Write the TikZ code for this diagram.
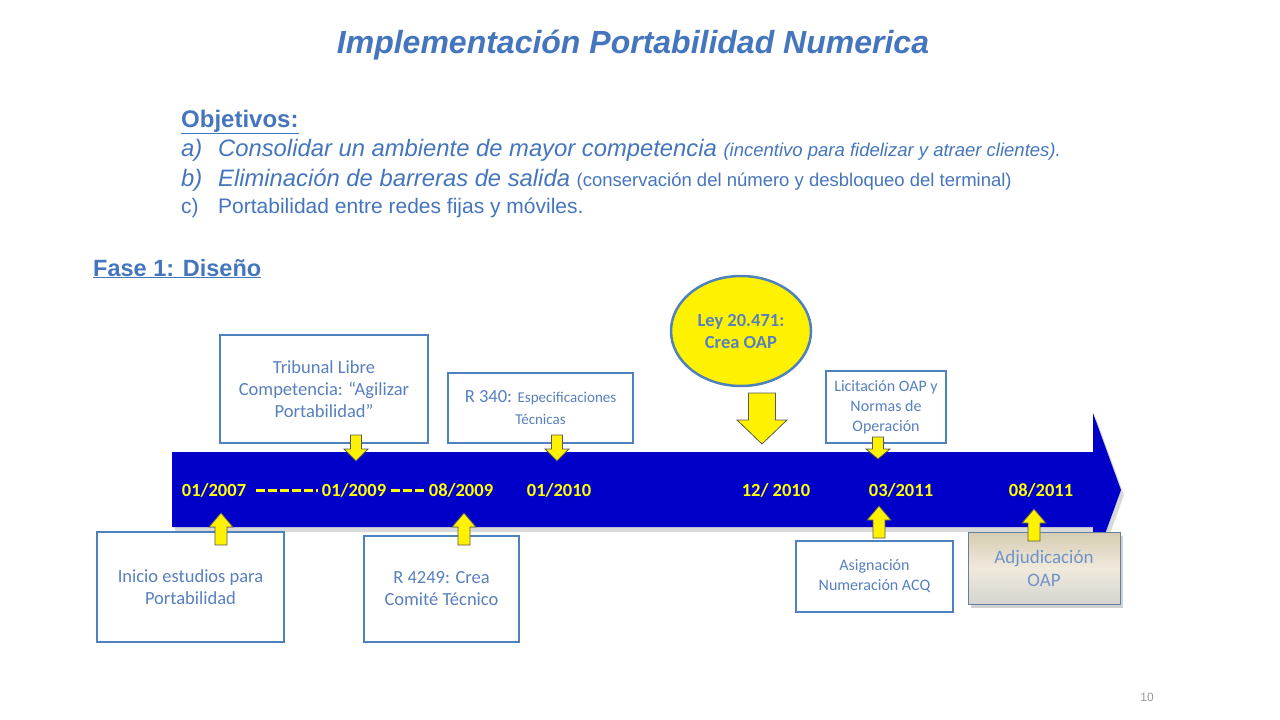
\documentclass[tikz,border=0pt]{standalone}
\usepackage{fontspec}
\setmainfont{Liberation Sans}
\newfontfamily\calibri{Carlito}
\usetikzlibrary{shapes.geometric, positioning}

\definecolor{titleblue}{RGB}{68,117,189}
\definecolor{boxline}{RGB}{79,129,189}
\definecolor{boxtext}{RGB}{88,128,190}
\definecolor{bandblue}{RGB}{0,0,200}
\definecolor{dateyellow}{RGB}{255,255,0}
\definecolor{adjtop}{RGB}{214,204,178}
\definecolor{adjmid}{RGB}{240,234,220}
\definecolor{adjbot}{RGB}{212,212,208}

\tikzset{
  slidetext/.style={anchor=base west, inner sep=0, text=titleblue},
  eventbox/.style={draw=boxline, line width=2.5, fill=white, align=center, inner sep=2,
    text=boxtext, font=\calibri\fontsize{18.5}{22}\selectfont},
  smallbox/.style={eventbox, font=\calibri\fontsize{16}{20}\selectfont},
  date/.style={text=dateyellow, inner sep=1, font=\calibri\bfseries\fontsize{18.5}{22}\selectfont},
  datedash/.style={dateyellow, line width=3, dash pattern=on 9 off 3},
  % block arrow pointing up: length, shaft half width, head half width, head length
  pics/blockarrow/.style n args={4}{code={
    \path[draw=black!65, fill=yellow, line width=0.8]
      (0,-#1/2) -- (#3,-#1/2+#4) -- (#2,-#1/2+#4) -- (#2,#1/2) -- (-#2,#1/2)
      -- (-#2,-#1/2+#4) -- (-#3,-#1/2+#4) -- cycle;
  }},
}

\begin{document}
\begin{tikzpicture}[x=1pt, y=-1pt]
  \useasboundingbox (0,0) rectangle (1280,720);

  % Title
  \node[text=titleblue, font=\bfseries\itshape\fontsize{32}{38}\selectfont] (title) at (633,45)
    {Implementación Portabilidad Numerica};

  % Objetivos
  \node[slidetext, font=\bfseries\fontsize{24}{28}\selectfont] (obj) at (181,127) {\underline{Objetivos:}};
  \node[slidetext, font=\itshape\fontsize{23.8}{28}\selectfont] (obja) at (181,156)
    {\makebox[37pt][l]{a)}Consolidar un ambiente de mayor competencia {\fontsize{18.5}{20}\selectfont (incentivo para fidelizar y atraer clientes).}};
  \node[slidetext, font=\fontsize{23.8}{28}\selectfont] (objb) at (181,186)
    {\makebox[37pt][l]{\itshape b)}\textit{Eliminación de barreras de salida} {\fontsize{18.5}{20}\selectfont (conservación del número y desbloqueo del terminal)}};
  \node[slidetext, font=\fontsize{21}{25}\selectfont] (objc) at (181,213)
    {\makebox[37pt][l]{c)}Portabilidad entre redes fijas y móviles.};

  % Fase
  \node[slidetext, font=\bfseries\fontsize{23.5}{28}\selectfont] (fase) at (93,276) {\underline{Fase 1: Diseño}};

  % Timeline band (shadow, then band)
  \fill[black!15] (175,457) -- (1096,457) -- (1096,418) -- (1124,495) -- (1096,572) -- (1096,532) -- (175,532) -- cycle;
  \fill[bandblue] (172,452) -- (1093,452) -- (1093,413) -- (1121,490) -- (1093,567) -- (1093,527) -- (172,527) -- cycle;

  % Dates
  \node[date] (d07)   at (214,490) {01/2007};
  \node[date] (d09)   at (354,490) {01/2009};
  \node[date] (d0809) at (461,490) {08/2009};
  \node[date] (d10)   at (559,490) {01/2010};
  \node[date] (d1210) at (776,490) {12/ 2010};
  \node[date] (d0311) at (901,490) {03/2011};
  \node[date] (d0811) at (1041,490) {08/2011};
  \draw[datedash] ([xshift=9]d07.east) -- ([xshift=-3]d09.west);
  \draw[datedash] ([xshift=4]d09.east) -- ([xshift=-4]d0809.west);

  % Events above
  \node[eventbox, minimum width=208, minimum height=108] (trib) at (324,389)
    {Tribunal Libre\\Competencia: “Agilizar\\Portabilidad”};
  \node[eventbox, minimum width=185, minimum height=70] (r340) at (540.5,408)
    {R 340: {\fontsize{15}{18}\selectfont Especificaciones}\\{\fontsize{15}{18}\selectfont Técnicas}};
  \node[ellipse, draw=boxline, line width=2.5, fill=yellow, minimum width=140, minimum height=110,
    align=center, text=boxtext, font=\calibri\bfseries\fontsize{18.5}{22}\selectfont] (ley) at (741,331)
    {Ley 20.471:\\Crea OAP};
  \node[smallbox, minimum width=120, minimum height=72] (licit) at (886,407)
    {Licitación OAP y\\Normas de\\Operación};

  % Events below
  \node[eventbox, minimum width=187, minimum height=110] (inicio) at (190.5,587)
    {Inicio estudios para\\Portabilidad};
  \node[eventbox, minimum width=155, minimum height=106] (r4249) at (441.5,589)
    {R 4249: Crea\\Comité Técnico};
  \node[smallbox, minimum width=157, minimum height=71] (asig) at (874.5,576.5)
    {Asignación\\Numeración ACQ};
  \fill[black!18] (971,536) rectangle (1123,608);
  \node[eventbox, draw=boxline!60!gray, line width=1, minimum width=152, minimum height=72,
    text=boxtext!85!white, font=\calibri\fontsize{19}{23}\selectfont,
    top color=adjtop, bottom color=adjbot, middle color=adjmid] (adj) at (1044,568)
    {Adjudicación\\OAP};

  % Yellow markers
  \pic[rotate=180] (aTrib)  at (356,448) {blockarrow={26}{5.5}{12}{12}};
  \pic[rotate=180] (aR340)  at (557,448) {blockarrow={26}{5.5}{12}{12}};
  \pic[rotate=180] (aLicit) at (878,448) {blockarrow={22}{5.5}{12}{10}};
  \pic[rotate=180] (aLey)   at (762,418.5) {blockarrow={51}{13.5}{25}{24}};
  \pic (aInicio) at (221,529) {blockarrow={32}{6}{12}{14}};
  \pic (aR4249)  at (464,529) {blockarrow={32}{6}{12}{14}};
  \pic (aAsig)   at (879,522) {blockarrow={32}{6}{12}{14}};
  \pic (aAdj)    at (1034,525) {blockarrow={32}{6}{12}{14}};

  % Page number
  \node[text=black!40, font=\fontsize{12}{14}\selectfont] (page) at (1147,697) {10};
\end{tikzpicture}
\end{document}
